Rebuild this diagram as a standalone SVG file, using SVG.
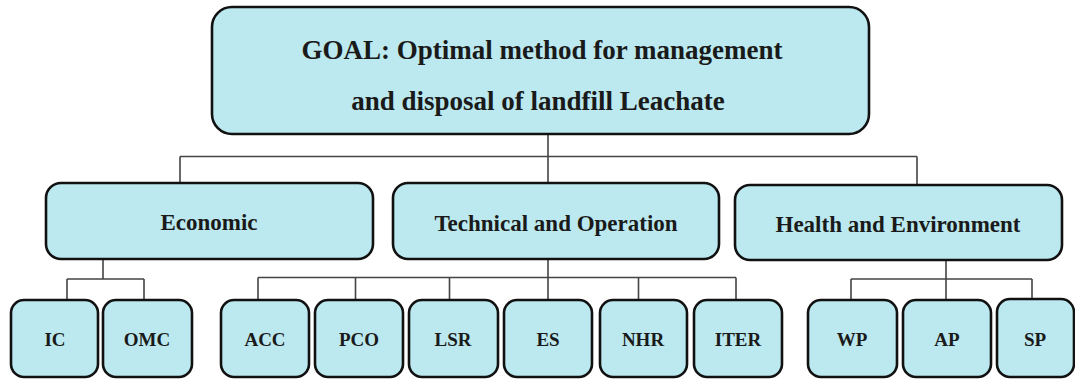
<svg xmlns="http://www.w3.org/2000/svg" width="1075" height="379" viewBox="0 0 1075 379">
<style>
.box{fill:#bbe9ef;stroke:#111;stroke-width:2.6}
.t{font-family:"Liberation Serif","Times New Roman",serif;font-weight:bold;fill:#1a1a1a;text-anchor:middle}
.goal{font-size:27px}
.mid{font-size:23px}
.leaf{font-size:19px}
.c{fill:none;stroke:#444;stroke-width:1.6}
</style>
<rect width="1075" height="379" fill="#fff"/>
<g id="connectors">
<path class="c" d="M548 134V156.5M180 156.5H917M180 156.5V183M548 156.5V183M917 156.5V185"/>
<path class="c" d="M103 259V279M67 279H144M67 279V300M144 279V300"/>
<path class="c" d="M548 259V277.5M258 277.5H736M258 277.5V300M355.5 277.5V300M449.5 277.5V300M548 277.5V300M638.5 277.5V300M736 277.5V300"/>
<path class="c" d="M946 260V279M851 279H1032M851 279V300M946 279V300M1032 279V300"/>
</g>
<g id="goal">
<rect class="box" x="212" y="7" width="657" height="127" rx="20"/>
<text class="t goal" x="542" y="59">GOAL: Optimal method for management</text>
<text class="t goal" x="538" y="110">and disposal of landfill Leachate</text>
</g>
<g id="economic">
<rect class="box" x="46" y="183" width="327" height="76" rx="15"/>
<text class="t mid" x="209" y="230">Economic</text>
</g>
<g id="technical">
<rect class="box" x="393" y="183" width="326" height="76" rx="15"/>
<text class="t mid" x="556" y="231">Technical and Operation</text>
</g>
<g id="health">
<rect class="box" x="735" y="185" width="327" height="75" rx="15"/>
<text class="t mid" x="898" y="232">Health and Environment</text>
</g>
<g id="ic"><rect class="box" x="11" y="300" width="87" height="77" rx="13"/><text class="t leaf" x="55" y="346">IC</text></g>
<g id="omc"><rect class="box" x="103" y="300" width="89" height="77" rx="13"/><text class="t leaf" x="147" y="346">OMC</text></g>
<g id="acc"><rect class="box" x="221" y="300" width="88" height="77" rx="13"/><text class="t leaf" x="265" y="346">ACC</text></g>
<g id="pco"><rect class="box" x="315" y="300" width="88" height="77" rx="13"/><text class="t leaf" x="359" y="346">PCO</text></g>
<g id="lsr"><rect class="box" x="409" y="300" width="89" height="77" rx="13"/><text class="t leaf" x="453" y="346">LSR</text></g>
<g id="es"><rect class="box" x="504" y="300" width="88" height="77" rx="13"/><text class="t leaf" x="548" y="346">ES</text></g>
<g id="nhr"><rect class="box" x="600" y="300" width="87" height="77" rx="13"/><text class="t leaf" x="643" y="346">NHR</text></g>
<g id="iter"><rect class="box" x="694" y="300" width="88" height="77" rx="13"/><text class="t leaf" x="738" y="346">ITER</text></g>
<g id="wp"><rect class="box" x="808" y="300" width="89" height="77" rx="13"/><text class="t leaf" x="852" y="346">WP</text></g>
<g id="ap"><rect class="box" x="903" y="300" width="88" height="77" rx="13"/><text class="t leaf" x="947" y="346">AP</text></g>
<g id="sp"><rect class="box" x="997" y="299" width="77" height="78" rx="13"/><text class="t leaf" x="1035" y="346">SP</text></g>
</svg>
